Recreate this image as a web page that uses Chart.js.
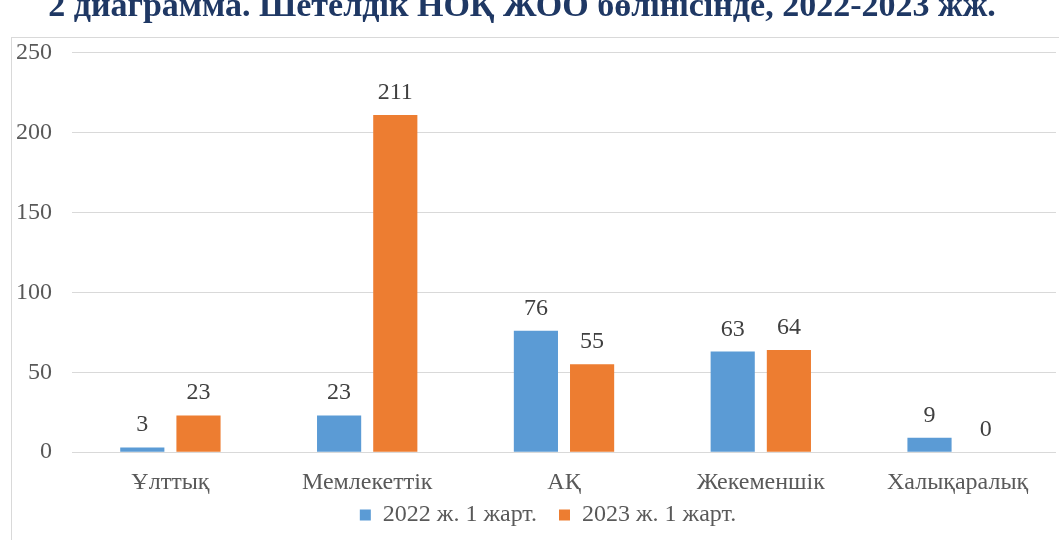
<!DOCTYPE html>
<html>
<head>
<meta charset="utf-8">
<script src="https://cdn.jsdelivr.net/npm/chart.js"></script>
<style>
  html, body { margin: 0; padding: 0; background: #ffffff; overflow: hidden; width: 1059px; height: 540px; }
  #frame { position: absolute; left: 11px; top: 37px; width: 1200px; height: 700px; border: 1px solid #d9d9d9; box-sizing: border-box; }
  #wrap { position: absolute; left: 0; top: -13px; width: 1059px; height: 580px; }
</style>
</head>
<body>
<div id="frame"></div>
<div id="wrap"><canvas id="myChart" width="1059" height="580"></canvas></div>
<script>
  const titleText = "2 диаграмма. Шетелдік НОҚ ЖОО бөлінісінде, 2022-2023 жж.";
  const categories = ["Ұлттық", "Мемлекеттік", "АҚ", "Жекеменшік", "Халықаралық"];
  const seriesNames = ["2022 ж. 1 жарт.", "2023 ж. 1 жарт."];
  const values2022 = [3, 23, 76, 63, 9];
  const values2023 = [23, 211, 55, 64, 0];
  const yTicks = [0, 50, 100, 150, 200, 250];

  const serif = "'Liberation Serif', 'Times New Roman', serif";

  // value labels above each bar, placed from the bar elements
  const barValues = {
    id: "barValues",
    afterDatasetsDraw(chart) {
      const ctx = chart.ctx;
      ctx.save();
      ctx.font = "24px " + serif;
      ctx.fillStyle = "#404040";
      ctx.textAlign = "center";
      ctx.textBaseline = "alphabetic";
      chart.data.datasets.forEach((ds, i) => {
        chart.getDatasetMeta(i).data.forEach((bar, j) => {
          ctx.fillText(String(ds.data[j]), bar.x, bar.y - 16);
        });
      });
      ctx.restore();
    }
  };

  // nudge title and legend like the original layout
  const nudge = {
    id: "nudge",
    afterLayout(chart) {
      chart.titleBlock.left -= 14;
      chart.titleBlock.right -= 14;
      chart.legend.left += 12;
      chart.legend.right += 12;
      chart.legend.top -= 24;
      chart.legend.bottom -= 24;
    }
  };

  new Chart(document.getElementById("myChart").getContext("2d"), {
    type: "bar",
    data: {
      labels: categories,
      datasets: [
        { label: seriesNames[0], data: values2022, backgroundColor: "#5B9BD5" },
        { label: seriesNames[1], data: values2023, backgroundColor: "#ED7D31" }
      ]
    },
    options: {
      responsive: false,
      animation: false,
      layout: { padding: { left: 16, right: 3, top: 0, bottom: 6 } },
      datasets: { bar: { categoryPercentage: 0.571, barPercentage: 0.786 } },
      scales: {
        x: {
          grid: { display: false },
          border: { display: false },
          ticks: { color: "#595959", font: { family: serif, size: 24 }, padding: 8 }
        },
        y: {
          min: 0,
          max: yTicks[yTicks.length - 1],
          afterBuildTicks(axis) { axis.ticks = yTicks.map(v => ({ value: v })); },
          afterFit(scale) { scale.width = 56; },
          grid: { color: "#d9d9d9", lineWidth: 1, drawTicks: false },
          border: { display: false },
          ticks: { color: "#595959", font: { family: serif, size: 24 }, padding: 20 }
        }
      },
      plugins: {
        title: {
          display: true,
          text: titleText,
          color: "#1F3864",
          font: { family: serif, size: 34, weight: "bold" },
          padding: { top: 0, bottom: 25 }
        },
        legend: {
          position: "bottom",
          labels: {
            color: "#595959",
            font: { family: serif, size: 24 },
            boxWidth: 11,
            boxHeight: 11,
            padding: 22
          }
        },
        tooltip: { enabled: false }
      }
    },
    plugins: [barValues, nudge]
  });
</script>
</body>
</html>
